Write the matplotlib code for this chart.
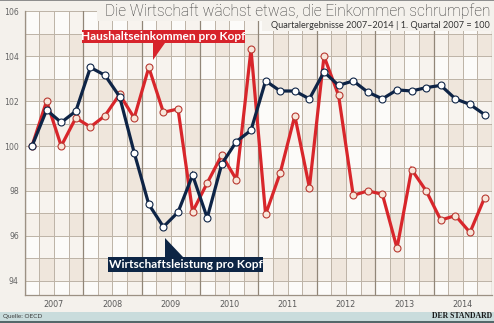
import matplotlib
matplotlib.use("Agg")
import matplotlib.pyplot as plt
import numpy as np
from matplotlib.patches import Rectangle, Polygon
from matplotlib.colors import ListedColormap
from matplotlib.transforms import blended_transform_factory

# Quarterly index values, Q1 2007 = 100
quarters = np.arange(32)
years = ["2007", "2008", "2009", "2010", "2011", "2012", "2013", "2014"]
wirtschaftsleistung = [
    100.0, 101.6, 101.05, 101.55,
    103.5, 103.15, 102.2, 99.7,
    97.4, 96.4, 97.05, 98.7,
    96.8, 99.2, 100.2, 100.7,
    102.9, 102.45, 102.45, 102.1,
    103.3, 102.7, 102.9, 102.4,
    102.1, 102.5, 102.45, 102.6,
    102.7, 102.1, 101.85, 101.4,
]
haushaltseinkommen = [
    100.0, 102.0, 100.0, 101.25,
    100.85, 101.35, 102.3, 101.25,
    103.5, 101.5, 101.65, 97.07,
    98.35, 99.6, 98.5, 104.3,
    96.95, 98.8, 101.35, 98.15,
    104.0, 102.25, 97.8, 98.0,
    97.85, 95.45, 98.95, 98.0,
    96.7, 96.9, 96.15, 97.7,
]

W, H = 494, 323
fig = plt.figure(figsize=(W / 100, H / 100), dpi=100)
bg = "#f4f1ec"
fig.patch.set_facecolor(bg)


def fx(px):
    return px / W


def fy(py):
    return 1 - py / H


# pixel helpers for the data area
def dx(px):
    return (px - 32) / 14.6


def dy(py):
    return 100 + (146 - py) / 22.45


x_l, x_r = 24.7, 491.9
y_t, y_b = 11.3, 294.5
ax = fig.add_axes([fx(x_l), fy(y_b), (x_r - x_l) / W, (y_b - y_t) / H])
ax.set_xlim(-0.5, 31.5)
ax.set_ylim(dy(y_b), 106)
ax.set_facecolor("#fbfaf7")

# checkered cell background
xe = np.arange(-0.5, 32.0, 1.0)
ye = np.arange(93, 107)
C = np.zeros((len(ye) - 1, len(xe) - 1), dtype=int)
for r in range(C.shape[0]):
    k = 93 + r
    for c in range(C.shape[1]):
        if k % 2 == 0:
            C[r, c] = 3 if c % 2 == 1 else 2
        else:
            C[r, c] = 1 if c % 2 == 1 else 0
cmap = ListedColormap(["#fcfbf9", "#f7f3ee", "#f6f1eb", "#efe6dc"])
ax.pcolormesh(xe, ye, C, cmap=cmap, vmin=-0.5, vmax=3.5, zorder=0)

# grid
for v in range(94, 107):
    ax.axhline(v, color="#bdb3a6", lw=0.7, zorder=1)
for i in range(-1, 32):
    xv = i + 0.5
    if (i + 1) % 4 == 0:
        ax.axvline(xv, color="#918678", lw=0.9, zorder=1)
    else:
        ax.axvline(xv, color="#bdb3a6", lw=0.7, zorder=1)

for s in ["top", "right"]:
    ax.spines[s].set_visible(False)
for s in ["left", "bottom"]:
    ax.spines[s].set_color("#9c9184")
    ax.spines[s].set_linewidth(0.9)

ax.set_xticks([])
ax.set_yticks(range(94, 107, 2))
ax.tick_params(axis="y", length=0, pad=4.2, labelsize=5.6, labelcolor="#666666")

# year labels under each block of four quarters
trans = blended_transform_factory(ax.transData, fig.transFigure)
for k, yr in enumerate(years):
    ax.text(1.5 + 4 * k, fy(304.5), yr, transform=trans, ha="center", va="center",
            fontsize=5.8, color="#5a5a5a", clip_on=False)

# series
red = "#d8262b"
navy = "#0e2446"
ax.plot(quarters, haushaltseinkommen, color=red, lw=2.3, marker="o", ms=5.0,
        mfc="#f8e6da", mec="#b83a32", mew=0.8, zorder=3, solid_joinstyle="miter")
ax.plot(quarters, wirtschaftsleistung, color=navy, lw=2.3, marker="o", ms=5.0,
        mfc="white", mec=navy, mew=0.8, zorder=4, solid_joinstyle="miter")

# label boxes with pointers
red_box = [(82, 30), (245, 30), (245, 43), (165, 43), (153, 60), (153, 43), (82, 43)]
ax.add_patch(Polygon([(dx(a), dy(b)) for a, b in red_box], closed=True,
                     facecolor="#d7232b", edgecolor="none", zorder=5, clip_on=False))
ax.text(dx(163.5), dy(36.7), "Haushaltseinkommen pro Kopf", ha="center", va="center",
        color="white", fontsize=8.6, fontweight="bold", family="Lato", zorder=6)

navy_box = [(108, 257), (165, 257), (165, 238), (183, 257), (263, 257), (263, 272), (108, 272)]
ax.add_patch(Polygon([(dx(a), dy(b)) for a, b in navy_box], closed=True,
                     facecolor="#0d2545", edgecolor="none", zorder=5, clip_on=False))
ax.text(dx(185.5), dy(264.7), "Wirtschaftsleistung pro Kopf", ha="center", va="center",
        color="white", fontsize=8.6, fontweight="bold", family="Lato", zorder=6)

# title block
title_shape = [(97, 0), (494, 0), (494, 31), (262, 31), (262, 20.5), (97, 20.5)]
fig.add_artist(Polygon([(fx(a), fy(b)) for a, b in title_shape], closed=True,
                       facecolor=bg, edgecolor="none", transform=fig.transFigure, zorder=2))
fig.text(fx(490), fy(10.8), "Die Wirtschaft wächst etwas, die Einkommen schrumpfen",
         ha="right", va="center", fontsize=11.2, color="#333333",
         family=["Roboto", "Lato"], fontweight="light", zorder=3)
fig.text(fx(490), fy(25.8), "Quartalergebnisse 2007–2014 | 1. Quartal 2007 = 100",
         ha="right", va="center", fontsize=6.6, color="#333333", family="Lato", zorder=3)

# top rule
fig.add_artist(Rectangle((0, fy(1.2)), 1, 1.2 / H, transform=fig.transFigure,
                         facecolor="#8e8e8e", edgecolor="none", zorder=3))

# footer
fig.add_artist(Rectangle((0, fy(321)), 1, 9.5 / H, transform=fig.transFigure,
                         facecolor="#c9dcdc", edgecolor="none", zorder=2))
fig.add_artist(Rectangle((0, 0), 1, 2 / H, transform=fig.transFigure,
                         facecolor="#55686a", edgecolor="none", zorder=2))
fig.text(fx(3), fy(316.3), "Quelle: OECD", ha="left", va="center", fontsize=4.6,
         color="#3c3c3c", family="Lato", zorder=3)
fig.text(fx(492), fy(316.3), "DER STANDARD", ha="right", va="center", fontsize=5.6,
         color="#1a1a1a", family="Liberation Serif", fontweight="bold", zorder=3)

fig.savefig("out.png", dpi=100, facecolor=fig.get_facecolor())
